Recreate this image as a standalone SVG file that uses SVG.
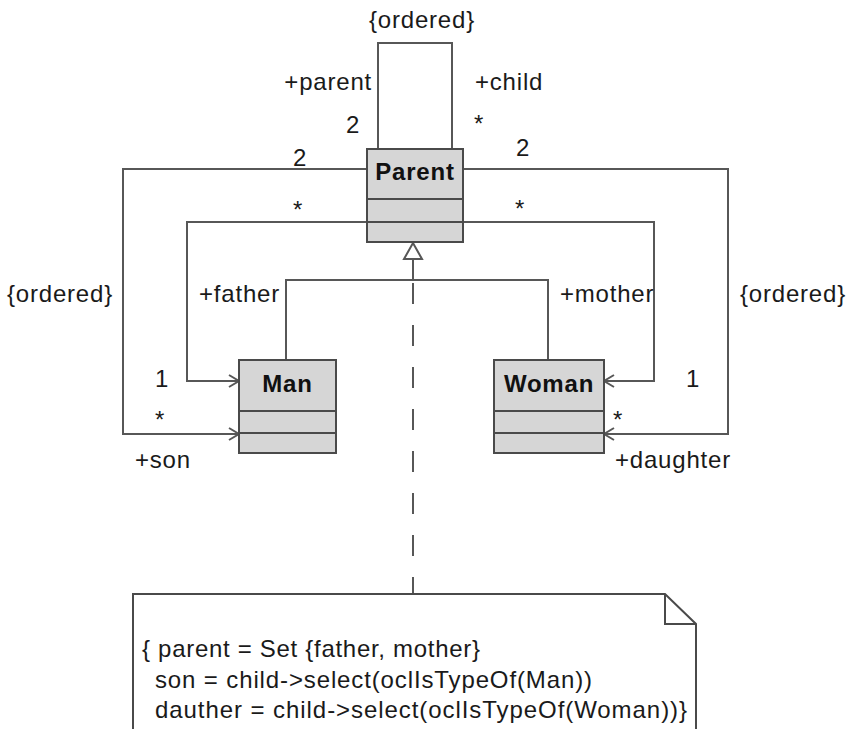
<svg xmlns="http://www.w3.org/2000/svg" width="851" height="729" viewBox="0 0 851 729">
  <style>
    .cls { fill: #d6d6d6; stroke: #4a4a4a; stroke-width: 2; }
    .sep { stroke: #4a4a4a; stroke-width: 2; fill: none; }
    .name { font-family: "Liberation Sans", Arial, sans-serif; font-size: 24px; font-weight: bold; letter-spacing: 0.8px; fill: #111; text-anchor: middle; }
    .lbl { font-family: "Liberation Sans", Arial, sans-serif; font-size: 24px; letter-spacing: 0.8px; fill: #1a1a1a; }
    .mid { text-anchor: middle; }
    .end { text-anchor: end; }
    .wire { fill: none; stroke: #575757; stroke-width: 2; }
    .assoc { marker-end: url(#open); }
    .dash { stroke-dasharray: 21 21; }
    .note { fill: #ffffff; stroke: #4a4a4a; stroke-width: 2; }
    .notetext { font-family: "Liberation Sans", Arial, sans-serif; font-size: 24px; fill: #1a1a1a; }
  </style>
  <defs>
    <marker id="open" viewBox="-12 -8 14 16" refX="0" refY="0" markerWidth="14" markerHeight="16" markerUnits="userSpaceOnUse" orient="auto">
      <path d="M-10,-6 L0,0 L-10,6" fill="none" stroke="#575757" stroke-width="2"/>
    </marker>
  </defs>
  <rect width="851" height="729" fill="#ffffff"/>

  <!-- associations and generalization -->
  <g id="connectors">
    <!-- parent/child self association -->
    <path class="wire" d="M378,149 V43 H452 V149"/>
    <!-- son -->
    <path class="wire assoc" d="M367,169 H123 V434 H239"/>
    <!-- father -->
    <path class="wire assoc" d="M367,222 H187 V381 H239"/>
    <!-- daughter -->
    <path class="wire assoc" d="M463,169 H728 V434 H604"/>
    <!-- mother -->
    <path class="wire assoc" d="M463,222 H654 V381 H604"/>
    <!-- generalization Man/Woman -> Parent -->
    <path class="wire" d="M286,360 V280 H548 V360"/>
    <path class="wire" d="M413,280 V259"/>
    <path d="M413,243 L404,259 L422,259 Z" fill="#ffffff" stroke="#575757" stroke-width="2"/>
    <!-- note anchor -->
    <path class="wire dash" d="M413,283 V594"/>
  </g>

  <g id="Parent">
    <rect class="cls" x="367" y="149" width="96" height="93"/>
    <path class="sep" d="M367,199 H463 M367,222 H463"/>
    <text class="name" x="415" y="180">Parent</text>
  </g>

  <g id="Man">
    <rect class="cls" x="239" y="360" width="97" height="93"/>
    <path class="sep" d="M239,411 H336 M239,433 H336"/>
    <text class="name" x="287.5" y="392">Man</text>
  </g>

  <g id="Woman">
    <rect class="cls" x="494" y="360" width="110" height="93"/>
    <path class="sep" d="M494,411 H604 M494,433 H604"/>
    <text class="name" x="549" y="392">Woman</text>
  </g>

  <!-- association end labels -->
  <g id="labels">
    <text class="lbl mid" x="422" y="28">{ordered}</text>
    <text class="lbl end" x="372" y="90">+parent</text>
    <text class="lbl mid" x="353" y="133">2</text>
    <text class="lbl" x="475" y="90">+child</text>
    <text class="lbl mid" x="479" y="132">*</text>
    <text class="lbl mid" x="300" y="166">2</text>
    <text class="lbl mid" x="523" y="156">2</text>
    <text class="lbl mid" x="298" y="218">*</text>
    <text class="lbl mid" x="520" y="217">*</text>
    <text class="lbl" x="7" y="302">{ordered}</text>
    <text class="lbl" x="199" y="302">+father</text>
    <text class="lbl" x="560" y="302">+mother</text>
    <text class="lbl" x="740" y="302">{ordered}</text>
    <text class="lbl mid" x="162" y="387">1</text>
    <text class="lbl mid" x="160" y="428">*</text>
    <text class="lbl" x="135" y="468">+son</text>
    <text class="lbl mid" x="693" y="387">1</text>
    <text class="lbl mid" x="618" y="428">*</text>
    <text class="lbl" x="615" y="468">+daughter</text>
  </g>

  <g id="constraint">
    <path class="note" d="M133,735 V594 H665 L696,624 V735"/>
    <path class="sep" d="M665,594 V624 H696"/>
    <text class="notetext" x="142" y="657" textLength="338" lengthAdjust="spacing">{ parent = Set {father, mother}</text>
    <text class="notetext" x="155" y="688" textLength="437" lengthAdjust="spacing">son = child-&gt;select(oclIsTypeOf(Man))</text>
    <text class="notetext" x="155" y="718" textLength="532" lengthAdjust="spacing">dauther = child-&gt;select(oclIsTypeOf(Woman))}</text>
  </g>
</svg>
